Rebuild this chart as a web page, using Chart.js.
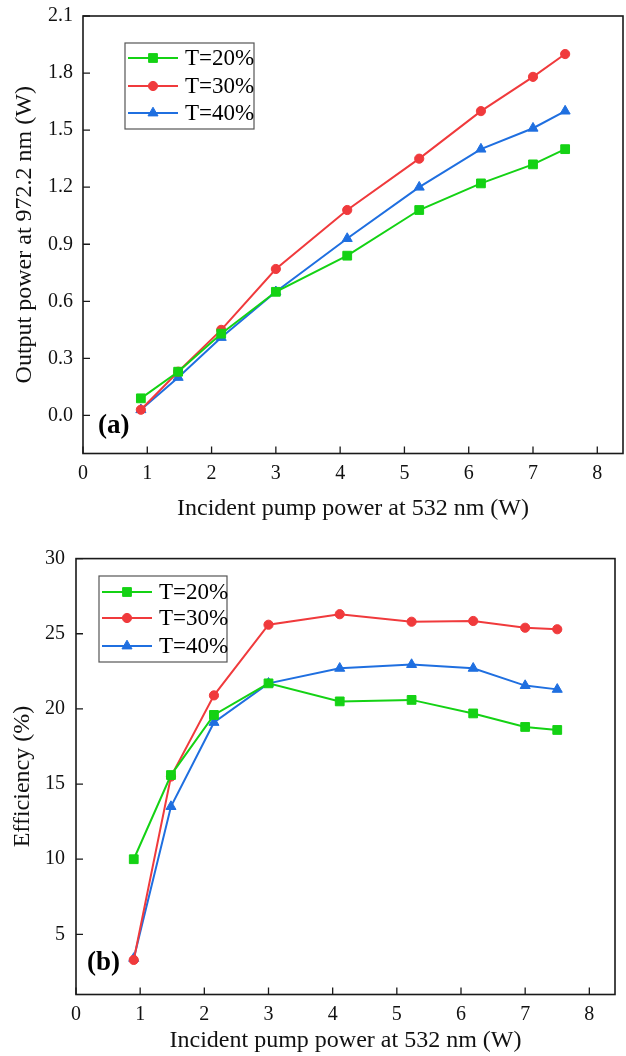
<!DOCTYPE html>
<html>
<head>
<meta charset="utf-8">
<script src="https://cdn.jsdelivr.net/npm/chart.js@4.4.1/dist/chart.umd.min.js"></script>
<style>
  body { margin: 0; background: #fff; width: 626px; height: 1056px; overflow: hidden; }
  .panel { position: absolute; left: 0; }
</style>
</head>
<body>
<div class="panel" style="top:0"><canvas id="chartA" width="626" height="530"></canvas></div>
<div class="panel" style="top:530px"><canvas id="chartB" width="626" height="526"></canvas></div>
<script>
// incident pump power (W), shared by both panels
const pumpPower = [0.9, 1.48, 2.15, 3.0, 4.11, 5.23, 6.19, 7.0, 7.5];
const seriesLabels = ['T=20%', 'T=30%', 'T=40%'];

// (a) output power at 972.2 nm (W)
const outputT20 = [0.09, 0.23, 0.43, 0.65, 0.84, 1.08, 1.22, 1.32, 1.40];
const outputT30 = [0.03, 0.23, 0.45, 0.77, 1.08, 1.35, 1.60, 1.78, 1.90];
const outputT40 = [0.03, 0.20, 0.41, 0.65, 0.93, 1.20, 1.40, 1.51, 1.60];

// (b) efficiency (%)
const effT20 = [10.0, 15.6, 19.6, 21.7, 20.5, 20.6, 19.7, 18.8, 18.6];
const effT30 = [3.3, 15.5, 20.9, 25.6, 26.3, 25.8, 25.85, 25.4, 25.3];
const effT40 = [3.4, 13.5, 19.1, 21.7, 22.7, 22.95, 22.7, 21.55, 21.3];

const xTicks = [0, 1, 2, 3, 4, 5, 6, 7, 8];
const yTicksA = [0.0, 0.3, 0.6, 0.9, 1.2, 1.5, 1.8, 2.1];
const yTicksB = [5, 10, 15, 20, 25, 30];

const colors = ['#14d214', '#f03a3c', '#1f6fe0'];
const markers = ['rect', 'circle', 'triangle'];
const markerSize = [6.2, 4.6, 5.8];

Chart.defaults.font.family = "'Liberation Serif', 'Times New Roman', serif";
Chart.defaults.color = '#111';

// frame, inward ticks, panel tag and legend box
const decorations = {
  id: 'decorations',
  afterDraw(chart, args, opts) {
    const ctx = chart.ctx;
    const a = chart.chartArea;
    const xs = chart.scales.x, ys = chart.scales.y;
    ctx.save();
    ctx.strokeStyle = '#1a1a1a';
    ctx.lineWidth = 1.6;
    ctx.strokeRect(a.left, a.top, a.right - a.left, a.bottom - a.top);

    ctx.lineWidth = 1.3;
    ctx.beginPath();
    xs.ticks.forEach(t => {
      const px = xs.getPixelForValue(t.value);
      ctx.moveTo(px, a.bottom);
      ctx.lineTo(px, a.bottom - 7);
    });
    ys.ticks.forEach(t => {
      const py = ys.getPixelForValue(t.value);
      ctx.moveTo(a.left, py);
      ctx.lineTo(a.left + 7, py);
    });
    ctx.stroke();

    // panel tag
    ctx.fillStyle = '#000';
    ctx.font = "bold 27px 'Liberation Serif'";
    ctx.textBaseline = 'middle';
    ctx.textAlign = 'left';
    ctx.fillText(opts.tag, opts.tagX, opts.tagY);

    // legend
    const b = opts.box;
    ctx.fillStyle = '#fff';
    ctx.fillRect(b.x, b.y, b.w, b.h);
    ctx.strokeStyle = '#555';
    ctx.lineWidth = 1.2;
    ctx.strokeRect(b.x, b.y, b.w, b.h);
    ctx.font = "23px 'Liberation Serif'";
    chart.data.datasets.forEach((ds, i) => {
      const ry = opts.rows[i];
      ctx.strokeStyle = ds.borderColor;
      ctx.lineWidth = 2;
      ctx.beginPath();
      ctx.moveTo(opts.lineX0, ry);
      ctx.lineTo(opts.lineX1, ry);
      ctx.stroke();
      ctx.fillStyle = ds.backgroundColor;
      ctx.lineWidth = 1;
      Chart.helpers.drawPoint(ctx, {
        pointStyle: ds.pointStyle, radius: ds.pointRadius, borderWidth: 1, rotation: 0
      }, (opts.lineX0 + opts.lineX1) / 2, ry);
      ctx.fillStyle = '#000';
      ctx.fillText(ds.label, opts.textX, ry + 1);
    });
    ctx.restore();
  }
};

// stop the tick labels from pushing the plot area around
function noPadding(s) {
  s.paddingTop = 0;
  s.paddingBottom = 0;
  s.paddingLeft = 0;
  s.paddingRight = 0;
}

function makeChart(id, values, yTicks, yRange, yTitle, tickFmt, geo, deco) {
  const datasets = values.map((vals, i) => ({
    label: seriesLabels[i],
    data: pumpPower.map((x, k) => ({ x: x, y: vals[k] })),
    borderColor: colors[i],
    backgroundColor: colors[i],
    borderWidth: 2,
    pointStyle: markers[i],
    pointRadius: markerSize[i],
    pointBorderWidth: 1,
    tension: 0
  }));

  return new Chart(document.getElementById(id), {
    type: 'line',
    data: { datasets: datasets },
    plugins: [decorations],
    options: {
      responsive: false,
      animation: false,
      clip: false,
      layout: { autoPadding: false, padding: { top: geo.top, right: geo.right, left: 0, bottom: 0 } },
      plugins: {
        legend: { display: false },
        tooltip: { enabled: false },
        decorations: deco
      },
      scales: {
        x: {
          type: 'linear',
          min: 0,
          max: 8.4,
          afterBuildTicks: s => { s.ticks = xTicks.map(v => ({ value: v })); },
          afterFit: s => { s.height = geo.xHeight; noPadding(s); },
          grid: { display: false, drawTicks: false },
          border: { display: false },
          ticks: { font: { size: 20 }, color: '#111', padding: 8, maxRotation: 0 },
          title: {
            display: true,
            text: 'Incident pump power at 532 nm (W)',
            font: { size: 24 },
            color: '#111',
            padding: { top: 0, bottom: geo.xTitlePad }
          }
        },
        y: {
          type: 'linear',
          min: yRange[0],
          max: yRange[1],
          afterBuildTicks: s => { s.ticks = yTicks.map(v => ({ value: v })); },
          afterFit: s => { s.width = geo.yWidth; noPadding(s); },
          grid: { display: false, drawTicks: false },
          border: { display: false },
          ticks: { font: { size: 20 }, color: '#111', padding: geo.yTickPad, callback: tickFmt },
          title: {
            display: true,
            text: yTitle,
            font: { size: 24 },
            color: '#111',
            padding: { top: geo.yTitlePad, bottom: 0 }
          }
        }
      }
    }
  });
}

makeChart('chartA', [outputT20, outputT30, outputT40], yTicksA, [-0.2, 2.1],
  'Output power at 972.2 nm (W)', v => v.toFixed(1),
  { top: 16, right: 3, xHeight: 76.5, yWidth: 83, xTitlePad: 7, yTitlePad: 10, yTickPad: 10 },
  { tag: '(a)', tagX: 98, tagY: 426,
    box: { x: 125, y: 43, w: 129, h: 86 }, rows: [58, 86, 113],
    lineX0: 128, lineX1: 178, textX: 185 });

makeChart('chartB', [effT20, effT30, effT40], yTicksB, [1, 30],
  'Efficiency (%)', v => String(v),
  { top: 28.6, right: 11, xHeight: 61.5, yWidth: 76, xTitlePad: 1, yTitlePad: 8.6, yTickPad: 11 },
  { tag: '(b)', tagX: 87, tagY: 433,
    box: { x: 99, y: 46, w: 128, h: 86 }, rows: [62, 88, 116],
    lineX0: 102, lineX1: 152, textX: 159 });
</script>
</body>
</html>
